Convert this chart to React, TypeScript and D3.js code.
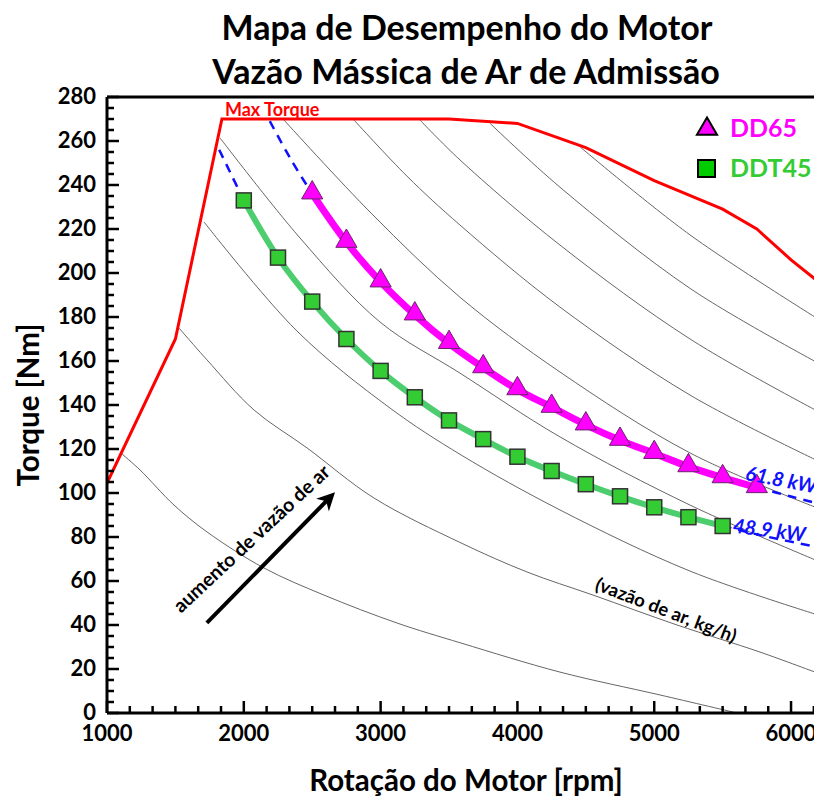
import React from "react";
import * as d3 from "d3";

// curva de torque maximo
const maxTorqueRpm = [1000, 1500, 1840, 3500, 4000, 4500, 5000, 5500, 5750, 6000, 6200];
const maxTorqueNm = [104.5, 170, 270, 270, 268, 257, 242, 229, 220, 206, 196];

// DD65 (61.8 kW)
const dd65Rpm = [2500, 2750, 3000, 3250, 3500, 3750, 4000, 4250, 4500, 4750, 5000, 5250, 5500, 5750];
const dd65Nm = [236, 214, 196, 181, 168, 157, 147, 139, 131, 124, 118, 112, 107, 102.5];

// DDT45 (48.9 kW)
const ddt45Rpm = [2000, 2250, 2500, 2750, 3000, 3250, 3500, 3750, 4000, 4250, 4500, 4750, 5000, 5250, 5500];
const ddt45Nm = [233, 207, 187, 170, 155.5, 143.5, 133, 124.5, 116.5, 110, 104, 98.5, 93.5, 89, 85];

// linhas de potencia constante (tracejadas)
const power618Left: [number, number][] = [[2190, 269], [2350, 251], [2500, 236]];
const power618Right: [number, number][] = [[5750, 102.5], [6000, 98.4], [6200, 95.2]];
const power489Left: [number, number][] = [[1820, 256], [1900, 245.8], [2000, 233]];
const power489Right: [number, number][] = [[5500, 85], [5800, 80.5], [6200, 75.3]];

// isolinhas de vazao de ar (rpm, Nm)
const flowA: [number, number][] = [[1110, 117.7], [1241, 110.5], [1490, 94.5], [1731, 82.3], [2148, 65.9], [2586, 53.6], [3120, 40.9], [3588, 31.8], [4311, 18.6], [5042, 8.2], [5605, 0]];
const flowB: [number, number][] = [[1526, 175], [1731, 160.5], [2075, 137.7], [2462, 120.5], [2952, 97.7], [3588, 77.3], [4070, 64.1], [4553, 53.6], [5167, 40], [5773, 27.7], [6200, 18]];
const flowC: [number, number][] = [[1709, 223.2], [2389, 173.6], [3069, 138.6], [3588, 117.3], [4311, 92.3], [5262, 64.5], [6200, 44.5]];
const flowD: [number, number][] = [[1826, 261.4], [2411, 215.9], [2996, 177.7], [3580, 154.5], [4311, 125.5], [5262, 94.5], [6200, 69]];
const flowE: [number, number][] = [[2294, 269.5], [2937, 226.8], [3580, 189], [4311, 155], [5262, 118.2], [6200, 93]];
const flowF: [number, number][] = [[2806, 269.5], [3193, 244], [3580, 221.8], [4311, 184.5], [5262, 144.5], [6200, 114.5]];
const flowG: [number, number][] = [[3288, 269.5], [3580, 251.4], [4311, 212.7], [5262, 170], [6200, 137]];
const flowH: [number, number][] = [[3800, 268], [4311, 239], [5262, 193], [6200, 159]];
const flowI: [number, number][] = [[4458, 257.3], [5262, 217.3], [6200, 179]];
const flowLines = [flowA, flowB, flowC, flowD, flowE, flowF, flowG, flowH, flowI];

const xTicks = [1000, 2000, 3000, 4000, 5000, 6000];
const yTicks = [0, 20, 40, 60, 80, 100, 120, 140, 160, 180, 200, 220, 240, 260, 280];

const FONT = "Lato, 'Open Sans', sans-serif";

export default function App() {
  const W = 814;
  const H = 798;
  const x = d3.scaleLinear().domain([1000, 6200]).range([107, 818.4]);
  const y = d3.scaleLinear().domain([0, 280]).range([713, 97]);

  const pairLine = d3
    .line<[number, number]>()
    .x((d) => x(d[0]))
    .y((d) => y(d[1]))
    .curve(d3.curveCatmullRom.alpha(0.5));

  const maxTorque: [number, number][] = maxTorqueRpm.map((r, i) => [r, maxTorqueNm[i]]);
  const dd65: [number, number][] = dd65Rpm.map((r, i) => [r, dd65Nm[i]]);
  const ddt45: [number, number][] = ddt45Rpm.map((r, i) => [r, ddt45Nm[i]]);

  const straight = d3
    .line<[number, number]>()
    .x((d) => x(d[0]))
    .y((d) => y(d[1]));

  const minorX = d3.range(1000, 6200, 1000 / 6);
  const minorY = d3.range(0, 281, 5);

  const tri = d3.symbol(d3.symbolTriangle, 195)();
  const legendTri = d3.symbol(d3.symbolTriangle, 175)();

  return (
    <svg width={W} height={H} style={{ position: "absolute", left: 0, top: 0, background: "#fff" }} fontFamily={FONT}>
      <defs>
        <clipPath id="plot">
          <rect x={107} y={97} width={W - 107} height={616} />
        </clipPath>
        <marker id="arrow" viewBox="0 0 10 10" refX="6" refY="5" markerWidth="4.5" markerHeight="4.5" orient="auto">
          <path d="M0,0 L10,5 L0,10 L3,5 z" fill="#000" />
        </marker>
      </defs>

      {/* titulo */}
      <text x={467} y={40} textAnchor="middle" fontSize={34} fontWeight="bold">
        Mapa de Desempenho do Motor
      </text>
      <text x={466} y={84} textAnchor="middle" fontSize={34} fontWeight="bold">
        Vazão Mássica de Ar de Admissão
      </text>

      <g clipPath="url(#plot)">
        {flowLines.map((l, i) => (
          <path key={i} d={pairLine(l) || ""} fill="none" stroke="#555" strokeWidth={0.9} />
        ))}
        <path d={straight(maxTorque) || ""} fill="none" stroke="#ff0000" strokeWidth={3} />
        {[power618Left, power618Right, power489Left, power489Right].map((l, i) => (
          <path key={i} d={pairLine(l) || ""} fill="none" stroke="#1010ff" strokeWidth={2.5} strokeDasharray="9,7" />
        ))}
        <path d={pairLine(ddt45) || ""} fill="none" stroke="#4ccd6e" strokeWidth={6} />
        <path d={pairLine(dd65) || ""} fill="none" stroke="#ff00ff" strokeWidth={7} />
        {ddt45.map((d, i) => (
          <rect key={i} x={x(d[0]) - 7.5} y={y(d[1]) - 7.5} width={15} height={15} fill="#33cc33" stroke="#333" strokeWidth={1.5} />
        ))}
        {dd65.map((d, i) => (
          <path key={i} d={tri || ""} transform={`translate(${x(d[0])},${y(d[1]) - 1})`} fill="#ff00ff" stroke="#6b236b" strokeWidth={1} />
        ))}
      </g>

      {/* anotacoes */}
      <text x={x(1862)} y={y(271.5)} fontSize={18} fontWeight="bold" fill="#ff0000">
        Max Torque
      </text>
      <text transform={`translate(${x(5660)},${y(106)}) rotate(11)`} fontSize={20} fontWeight="bold" fontStyle="italic" fill="#1010ff">
        61.8 kW
      </text>
      <text transform={`translate(${x(5570)},${y(82)}) rotate(7)`} fontSize={20} fontWeight="bold" fontStyle="italic" fill="#1010ff">
        48.9 kW
      </text>
      <line x1={x(1730)} y1={y(41)} x2={x(2630)} y2={y(98)} stroke="#000" strokeWidth={4} markerEnd="url(#arrow)" />
      <text transform={`translate(${x(2090)},${y(77)}) rotate(-43)`} textAnchor="middle" fontSize={19.5} fontWeight="bold">
        aumento de vazão de ar
      </text>
      <text transform={`translate(${x(5070)},${y(44)}) rotate(21)`} textAnchor="middle" fontSize={18.5} fontWeight="bold">
        (vazão de ar, kg/h)
      </text>

      {/* legenda */}
      <path d={legendTri || ""} transform={`translate(707,129)`} fill="#ff00ff" stroke="#000" strokeWidth={2} />
      <text x={730} y={137} fontSize={25} fontWeight="bold" fill="#ff00ff">DD65</text>
      <rect x={698} y={160} width={17} height={17} fill="#00cc00" stroke="#000" strokeWidth={2} />
      <text x={730} y={177} fontSize={25} fontWeight="bold" fill="#33cc33">DDT45</text>

      {/* eixos */}
      <line x1={107} x2={W} y1={y(280)} y2={y(280)} stroke="#000" strokeWidth={3} />
      <line x1={107} x2={W} y1={y(0)} y2={y(0)} stroke="#000" strokeWidth={3} />
      <line x1={107} x2={107} y1={y(280)} y2={y(0)} stroke="#000" strokeWidth={3} />
      {minorY.map((v) => (
        <line key={v} x1={107} x2={107 + (v % 20 === 0 ? 12 : 7)} y1={y(v)} y2={y(v)} stroke="#000" strokeWidth={2.5} />
      ))}
      {minorX.map((v) => {
        const major = Math.abs(v / 1000 - Math.round(v / 1000)) < 1e-6;
        return <line key={v} x1={x(v)} x2={x(v)} y1={y(0)} y2={y(0) - (major ? 12 : 7)} stroke="#000" strokeWidth={2.5} />;
      })}
      {yTicks.map((v) => (
        <text key={v} x={96} y={y(v) + 7} textAnchor="end" fontSize={22} fontWeight="bold">{v}</text>
      ))}
      {xTicks.map((v) => (
        <text key={v} x={x(v)} y={741} textAnchor="middle" fontSize={22} fontWeight="bold">{v}</text>
      ))}
      <text x={466} y={791} textAnchor="middle" fontSize={29.5} fontWeight="bold">Rotação do Motor [rpm]</text>
      <text transform="translate(39,405) rotate(-90)" textAnchor="middle" fontSize={29.5} fontWeight="bold">Torque [Nm]</text>
    </svg>
  );
}
